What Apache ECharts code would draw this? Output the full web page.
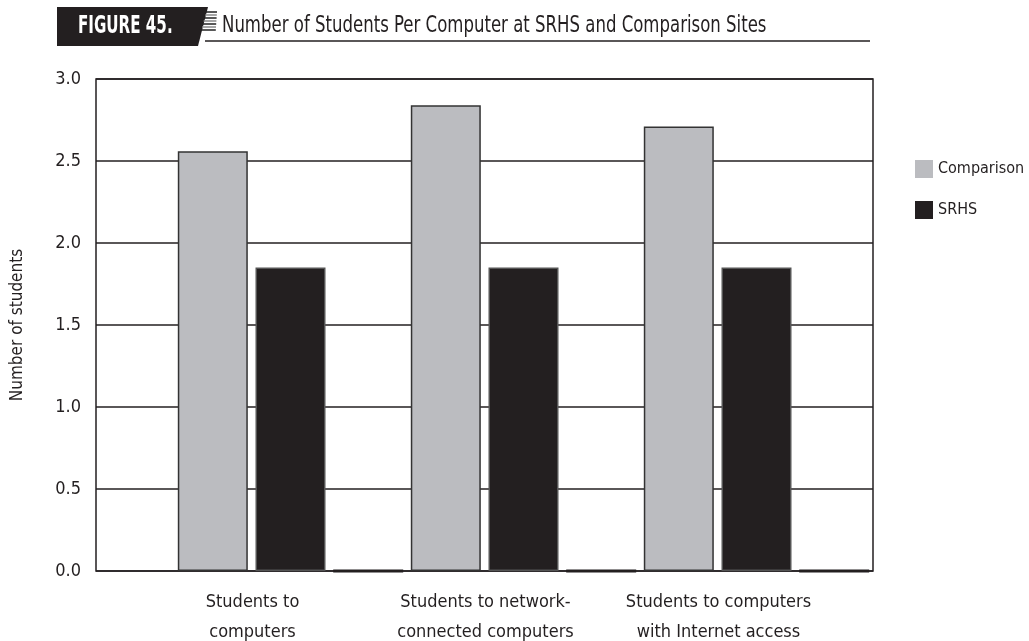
<!DOCTYPE html>
<html><head><meta charset="utf-8">
<script src="https://cdn.jsdelivr.net/npm/echarts@6/dist/echarts.min.js"></script>
<style>html,body{margin:0;padding:0;background:#fff}#c{width:1029px;height:641px}</style>
</head><body><div id="c"></div>
<script>
const FONT = "'Liberation Sans Narrow','DejaVu Sans Condensed','Roboto Condensed','Liberation Sans',sans-serif";
const categories = ['Students to\ncomputers', 'Students to network-\nconnected computers', 'Students to computers\nwith Internet access'];
const comparisonValues = [2.56, 2.84, 2.71];
const srhsValues = [1.85, 1.85, 1.85];
const spacerValues = [0, 0, 0];
const titleLabel = 'FIGURE 45.';
const titleText = 'Number of Students Per Computer at SRHS and Comparison Sites';

const chart = echarts.init(document.getElementById('c'), null, {renderer: 'canvas'});
const iconLines = [];
for (let i = 0; i < 7; i++) {
  iconLines.push({type: 'line', shape: {x1: 206 - i * 0.8, y1: 12 + i * 3, x2: 217 - i * 0.2, y2: 12 + i * 3}, style: {stroke: i % 2 ? '#888' : '#222', lineWidth: 1.5}});
}
chart.setOption({
  animation: false,
  textStyle: {fontFamily: FONT},
  graphic: [
    {type: 'polygon', shape: {points: [[57, 7], [208, 7], [198, 46], [57, 46]]}, style: {fill: '#231f20'}},
    {type: 'text', x: 78, y: 15, scaleX: 0.70, style: {text: titleLabel, fill: '#fff', font: 'bold 24px ' + FONT}},
    ...iconLines,
    {type: 'text', x: 222, y: 15, scaleX: 0.80, style: {text: titleText, fill: '#231f20', font: '23px ' + FONT}},
    {type: 'line', shape: {x1: 205, y1: 41, x2: 870, y2: 41}, style: {stroke: '#231f20', lineWidth: 1.5}}
  ],
  legend: {
    orient: 'vertical', left: 910, top: 155,
    itemWidth: 18, itemHeight: 18, itemGap: 23,
    icon: 'rect',
    data: ['Comparison', 'SRHS'],
    itemStyle: {borderWidth: 0},
    textStyle: {fontFamily: FONT, fontSize: 16, color: '#231f20'}
  },
  grid: [
    {left: 96, right: 156, top: 79, bottom: 70, show: true, borderColor: '#231f20', borderWidth: 1.5, backgroundColor: 'transparent', outerBoundsMode: 'none', containLabel: false},
    {left: 174, right: 156, top: 79, bottom: 70, outerBoundsMode: 'none', containLabel: false}
  ],
  xAxis: [
    {gridIndex: 0, type: 'category', data: ['a'], show: false},
    {gridIndex: 1, type: 'category', data: categories,
      axisLine: {show: false}, axisTick: {show: false},
      axisLabel: {interval: 0, fontFamily: FONT, fontSize: 18, color: '#231f20', margin: 16, lineHeight: 30, padding: [0, 76, 0, 0]}}
  ],
  yAxis: [
    {gridIndex: 0, type: 'value', min: 0, max: 3, interval: 0.5,
      name: 'Number of students', nameLocation: 'middle', nameGap: 70, nameRotate: 90,
      nameTextStyle: {fontFamily: FONT, fontSize: 17, color: '#231f20'},
      axisLine: {show: false}, axisTick: {show: false},
      axisLabel: {fontFamily: FONT, fontSize: 18, color: '#231f20', margin: 15, formatter: v => v.toFixed(1)},
      splitLine: {lineStyle: {color: '#231f20', width: 1.5}}},
    {gridIndex: 1, type: 'value', min: 0, max: 3, interval: 0.5, show: false, splitLine: {show: false}}
  ],
  series: [
    {name: 'Comparison', type: 'bar', xAxisIndex: 1, yAxisIndex: 1, data: comparisonValues, barWidth: 70, barGap: '11%',
      itemStyle: {color: '#bbbcc0', borderColor: '#333', borderWidth: 1.5}},
    {name: 'SRHS', type: 'bar', xAxisIndex: 1, yAxisIndex: 1, data: srhsValues, barWidth: 70, barGap: '11%',
      itemStyle: {color: '#231f20', borderColor: '#555', borderWidth: 1.5}},
    {name: 'spacer', type: 'bar', xAxisIndex: 1, yAxisIndex: 1, data: spacerValues, barWidth: 70, barGap: '11%',
      itemStyle: {color: '#231f20', borderColor: '#231f20', borderWidth: 3}}
  ]
});
</script></body></html>
